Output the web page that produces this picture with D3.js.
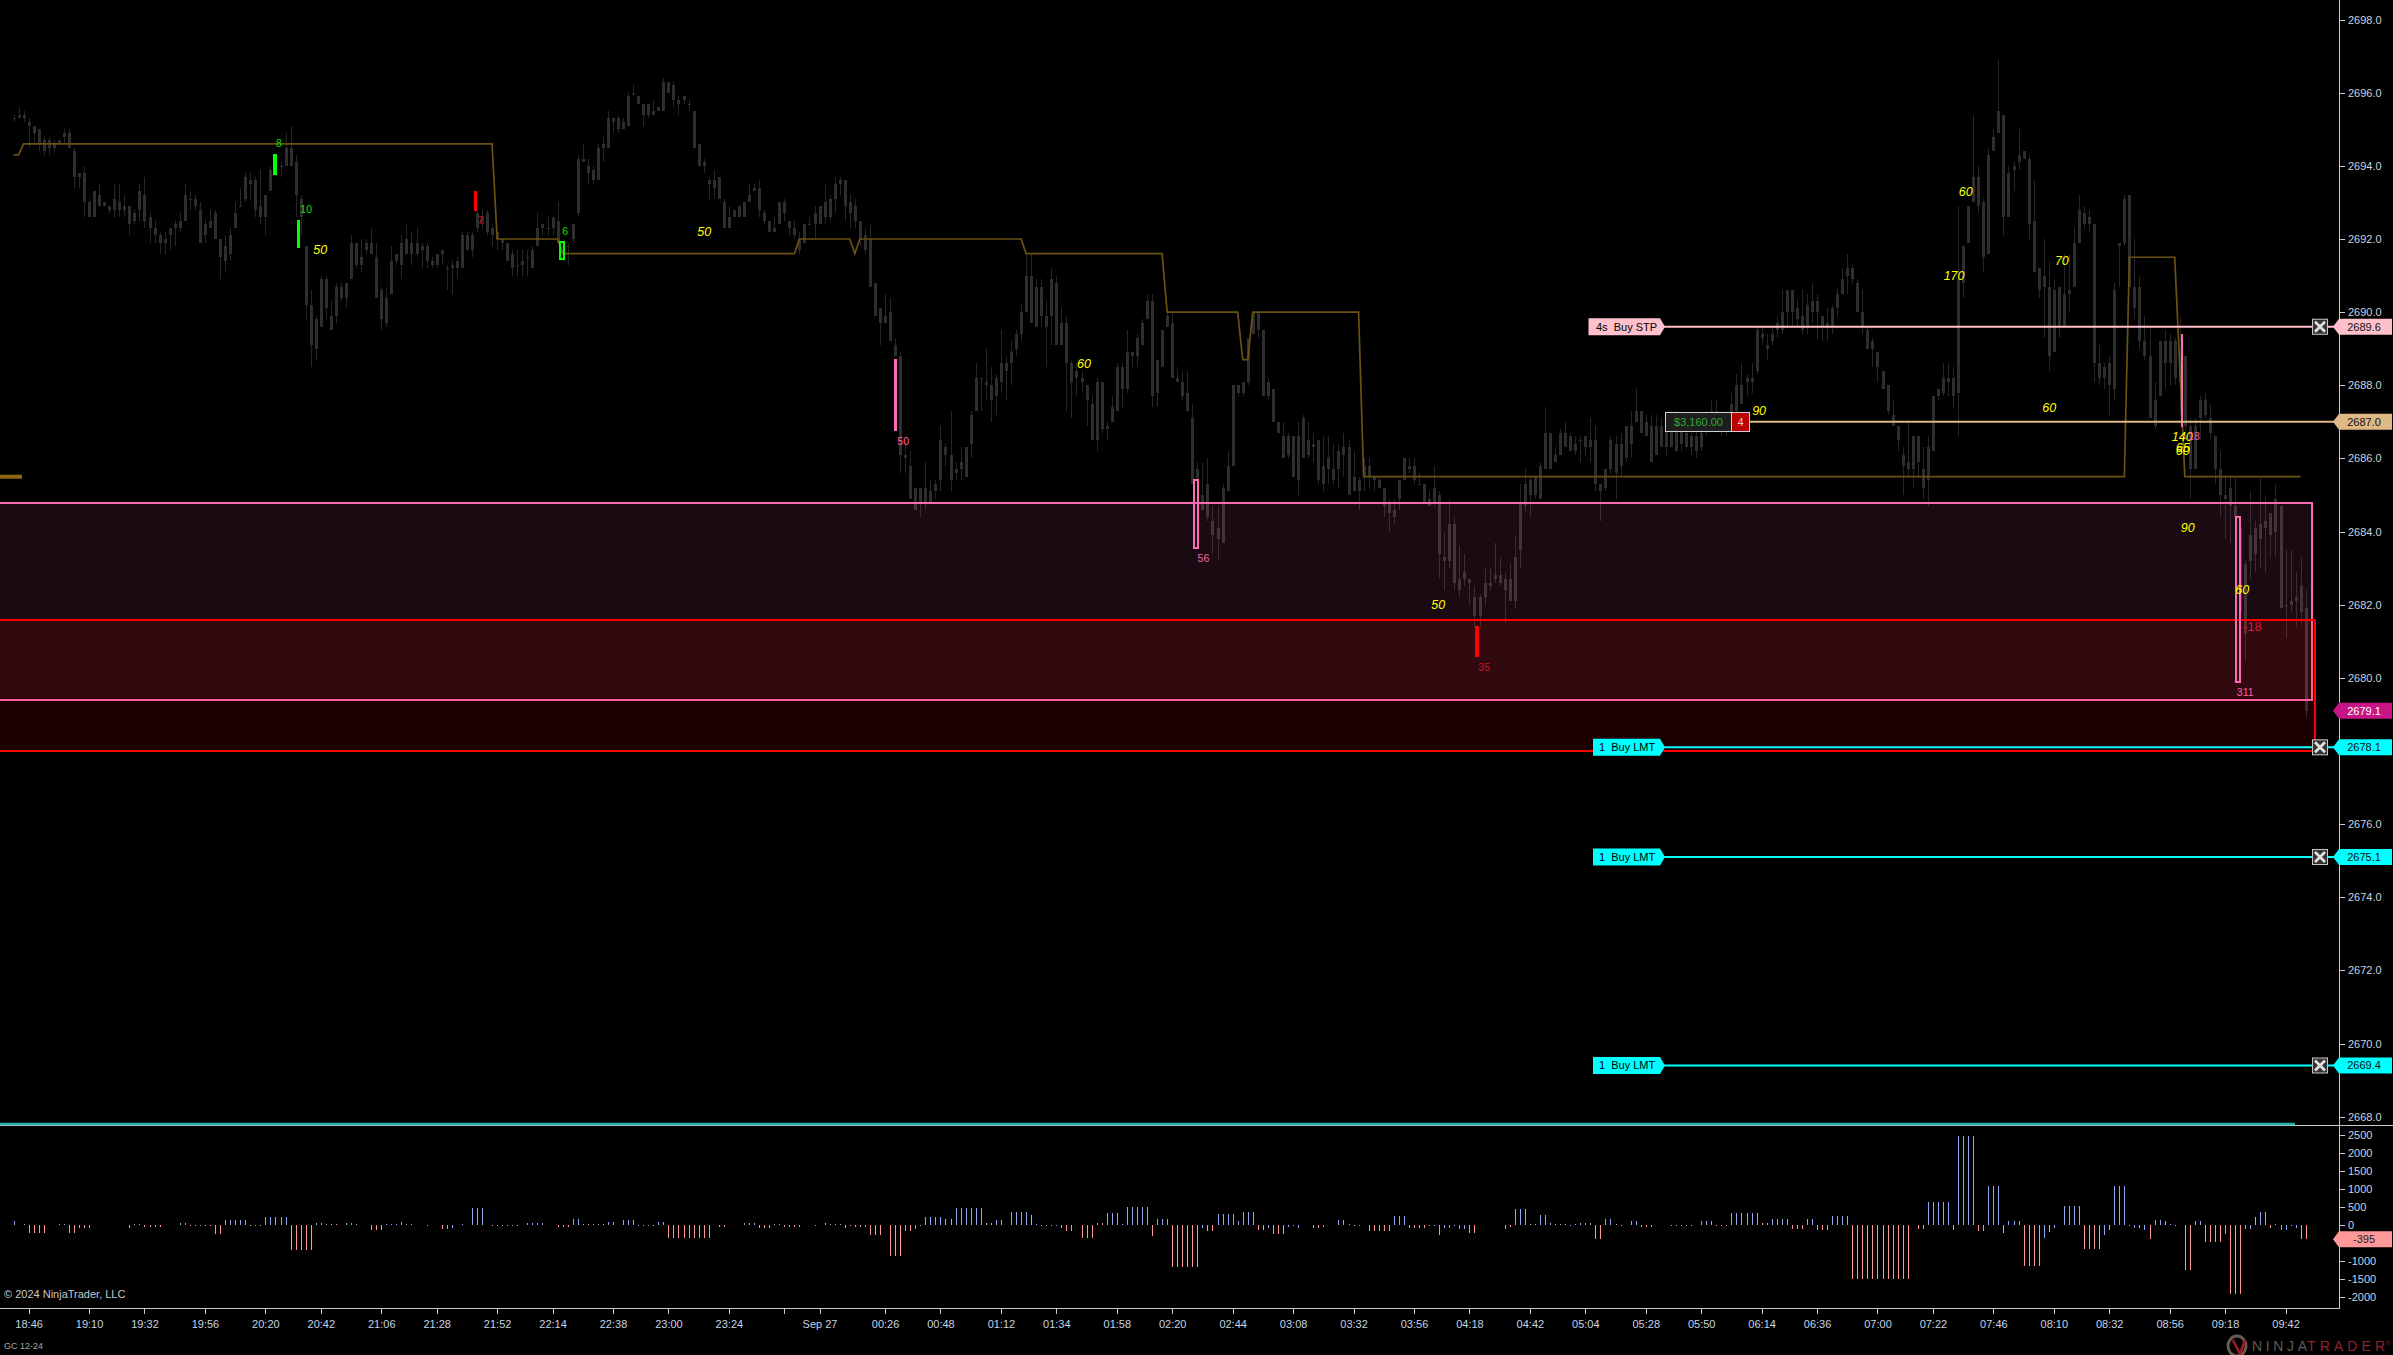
<!DOCTYPE html>
<html><head><meta charset="utf-8">
<style>html,body{margin:0;padding:0;background:#000;overflow:hidden}svg{display:block}text{font-family:"Liberation Sans",Arial,sans-serif;white-space:pre}</style>
<script src="https://cdn.jsdelivr.net/npm/d3@7/dist/d3.min.js"></script>
</head><body><svg id="c" width="2393" height="1355"></svg>
<script>
// ---- candles (price) one entry per 2-minute bar, from 18:40
const candleHigh=[
2695.4,2695.6,2695.5,2695.3,2695.1,2695.0,2694.8,2694.8,2694.7,2694.7,
2695.0,2695.0,2694.5,2693.8,2694.0,2693.1,2693.3,2693.5,2693.0,2692.9,
2693.5,2693.5,2693.2,2692.9,2692.8,2693.5,2693.7,2692.7,2692.5,2692.2,
2692.2,2692.3,2692.5,2692.7,2693.5,2693.3,2693.2,2693.0,2692.5,2692.8,
2692.8,2692.0,2692.1,2692.3,2693.0,2693.4,2693.8,2693.8,2693.7,2693.9,
2693.2,2694.0,2694.3,2694.1,2694.9,2695.1,2694.3,2693.2,2691.8,2690.6,
2689.9,2691.0,2691.0,2690.3,2690.8,2690.8,2690.8,2692.1,2691.9,2692.0,
2692.0,2692.3,2691.9,2690.7,2690.7,2691.8,2691.6,2692.1,2692.4,2692.2,
2692.3,2691.9,2691.9,2691.5,2691.6,2691.7,2691.3,2691.4,2691.5,2692.2,
2692.2,2692.2,2692.8,2692.8,2692.8,2692.4,2692.2,2692.0,2691.9,2691.7,
2691.7,2691.7,2691.7,2691.8,2692.7,2692.4,2692.6,2692.6,2693.0,2692.0,
2691.9,2692.4,2694.3,2694.6,2694.2,2694.0,2694.6,2694.8,2695.5,2695.3,
2695.4,2695.3,2696.0,2696.2,2695.9,2695.7,2695.7,2695.8,2695.6,2696.4,
2696.3,2696.3,2695.9,2695.9,2695.8,2695.5,2694.6,2694.2,2693.7,2693.9,
2693.7,2693.1,2692.9,2692.8,2692.9,2693.0,2693.5,2693.5,2693.6,2692.8,
2692.5,2692.6,2693.0,2693.1,2692.5,2692.5,2692.2,2692.4,2692.6,2692.9,
2692.9,2693.5,2693.2,2693.7,2693.7,2693.6,2693.2,2693.1,2692.5,2692.3,
2692.4,2690.8,2690.1,2690.5,2690.4,2689.3,2688.9,2686.5,2686.2,2685.2,
2685.2,2685.9,2685.4,2685.4,2686.9,2686.4,2687.3,2685.9,2686.3,2686.3,
2687.3,2688.6,2688.2,2689.0,2688.5,2688.3,2689.5,2688.8,2689.2,2689.5,
2690.2,2691.6,2691.6,2690.9,2690.9,2690.3,2691.2,2691.0,2690.1,2689.9,
2688.7,2688.6,2688.4,2688.0,2687.7,2688.2,2688.1,2687.0,2687.7,2688.6,
2688.6,2689.5,2688.9,2689.4,2689.8,2690.5,2690.5,2688.7,2689.5,2690.0,
2690.0,2688.5,2688.4,2688.4,2687.5,2685.9,2685.9,2686.0,2684.7,2684.7,
2685.3,2686.2,2688.0,2688.0,2688.1,2689.3,2690.0,2690.0,2689.5,2688.2,
2687.9,2687.0,2687.0,2686.7,2686.6,2687.0,2687.2,2687.0,2686.7,2686.5,
2686.6,2686.6,2686.4,2686.4,2686.7,2686.5,2686.2,2685.5,2686.0,2686.0,
2685.5,2685.5,2685.2,2684.9,2684.9,2685.4,2686.0,2686.0,2686.0,2685.6,
2685.3,2685.1,2685.8,2685.1,2684.0,2684.9,2684.4,2683.6,2683.4,2682.7,
2682.5,2682.3,2683.0,2683.0,2683.7,2683.3,2682.9,2683.1,2683.9,2685.3,
2685.7,2685.5,2685.5,2685.9,2687.4,2686.7,2686.3,2686.8,2687.0,2686.7,
2686.6,2686.6,2686.6,2687.1,2686.9,2685.3,2685.7,2686.6,2686.6,2686.7,
2686.9,2687.3,2687.9,2687.3,2687.2,2687.2,2687.2,2687.1,2687.2,2687.3,
2687.3,2687.0,2686.9,2686.8,2686.8,2687.1,2687.3,2687.6,2687.6,2687.3,
2687.3,2687.8,2688.3,2688.6,2688.3,2688.6,2689.6,2689.6,2689.4,2689.6,
2689.9,2690.6,2690.6,2690.6,2690.3,2690.6,2690.5,2690.8,2690.5,2689.9,
2690.1,2690.2,2690.7,2691.2,2691.6,2691.3,2690.9,2690.6,2689.6,2689.3,
2688.9,2688.4,2688.0,2687.6,2686.9,2686.3,2687.0,2686.6,2686.6,2686.3,
2686.6,2687.7,2687.9,2688.6,2688.6,2688.5,2692.9,2691.8,2692.9,2695.4,
2694.0,2693.1,2694.5,2695.0,2696.9,2695.4,2694.0,2694.1,2695.0,2694.4,
2694.3,2693.6,2691.2,2692.0,2691.4,2690.9,2690.7,2691.6,2691.6,2692.3,
2693.2,2692.9,2692.8,2692.4,2689.1,2688.6,2688.8,2690.8,2691.9,2693.2,
2693.2,2692.0,2691.0,2689.9,2689.6,2688.1,2689.2,2689.5,2689.4,2689.3,
2689.9,2688.8,2687.1,2687.1,2687.7,2687.8,2687.5,2686.6,2686.2,2685.5,
2685.5,2685.5,2684.4,2683.2,2685.1,2684.3,2685.5,2685.0,2684.5,2685.3,
2684.7,2683.5,2683.5,2682.9,2683.3,2682.4];
const candleBodyTop=[
2695.3,2695.4,2695.4,2695.2,2695.1,2695.0,2694.7,2694.7,2694.6,2694.7,
2694.9,2694.9,2694.4,2693.8,2693.8,2693.0,2693.3,2693.2,2693.0,2692.9,
2693.1,2693.0,2692.9,2692.9,2692.7,2693.3,2693.2,2692.6,2692.3,2692.1,
2692.0,2692.3,2692.4,2692.5,2693.2,2693.1,2693.1,2692.8,2692.4,2692.5,
2692.7,2692.0,2691.8,2692.1,2692.7,2692.9,2693.7,2693.6,2693.6,2692.9,
2693.2,2693.9,2694.2,2694.0,2694.5,2694.5,2694.1,2693.1,2691.8,2690.2,
2689.8,2690.9,2690.9,2689.9,2690.7,2690.7,2690.8,2691.9,2691.9,2691.5,
2691.9,2691.9,2691.5,2690.6,2690.4,2691.4,2691.6,2691.9,2692.0,2691.9,
2691.9,2691.8,2691.8,2691.4,2691.6,2691.7,2691.2,2691.3,2691.4,2692.1,
2692.1,2692.1,2692.7,2692.6,2692.7,2692.3,2692.2,2692.0,2691.9,2691.6,
2691.3,2691.4,2691.5,2691.7,2692.3,2692.4,2692.3,2692.6,2692.5,2691.9,
2691.8,2692.4,2694.2,2694.2,2694.0,2693.9,2694.5,2694.6,2695.3,2695.3,
2695.3,2695.2,2695.9,2696.0,2695.9,2695.7,2695.7,2695.5,2695.6,2696.3,
2696.3,2696.2,2695.8,2695.9,2695.7,2695.5,2694.6,2694.1,2693.6,2693.6,
2693.7,2693.0,2692.6,2692.8,2692.9,2693.0,2693.2,2693.4,2693.4,2692.7,
2692.5,2692.3,2693.0,2693.0,2692.5,2692.3,2692.0,2692.4,2692.4,2692.7,
2692.9,2693.0,2693.1,2693.5,2693.6,2693.6,2693.0,2692.9,2692.5,2692.1,
2692.0,2690.8,2690.1,2689.9,2690.0,2689.1,2688.8,2686.1,2685.8,2685.2,
2685.2,2685.2,2685.1,2685.3,2686.5,2686.3,2686.1,2685.7,2685.9,2686.3,
2687.2,2688.2,2688.2,2688.1,2688.0,2688.2,2688.6,2688.6,2688.9,2689.4,
2690.0,2691.0,2691.0,2690.7,2690.7,2689.9,2690.9,2690.8,2689.7,2689.7,
2688.6,2688.4,2688.2,2688.0,2687.5,2688.1,2688.1,2686.9,2687.4,2688.5,
2688.5,2688.9,2688.9,2689.3,2689.7,2690.3,2690.3,2688.7,2689.5,2689.9,
2689.7,2688.2,2688.1,2687.8,2687.1,2685.7,2685.0,2685.3,2684.3,2684.1,
2685.2,2685.8,2688.0,2688.0,2688.1,2689.3,2690.0,2690.0,2689.5,2688.1,
2687.9,2687.0,2686.6,2686.6,2686.6,2686.6,2687.1,2686.5,2686.4,2686.5,
2685.8,2686.0,2685.7,2686.2,2686.3,2686.3,2685.5,2685.4,2685.8,2685.8,
2685.5,2685.4,2685.2,2684.8,2684.6,2685.4,2686.0,2685.8,2685.8,2685.3,
2685.3,2684.9,2685.2,2685.0,2683.3,2684.2,2684.2,2682.7,2682.9,2682.7,
2682.2,2682.2,2682.6,2682.6,2682.8,2682.8,2682.7,2682.7,2683.3,2684.8,
2685.3,2685.4,2685.5,2685.8,2686.7,2686.7,2686.1,2686.7,2686.7,2686.6,
2686.4,2686.5,2686.6,2686.5,2686.5,2685.3,2685.7,2686.5,2686.4,2686.4,
2686.9,2686.9,2687.3,2687.3,2687.0,2686.9,2686.9,2686.9,2686.9,2686.9,
2686.9,2686.8,2686.7,2686.6,2686.6,2686.7,2687.1,2687.3,2687.3,2687.0,
2687.1,2687.5,2688.0,2688.0,2688.2,2688.2,2689.5,2689.4,2689.1,2689.4,
2689.7,2690.0,2690.6,2690.6,2690.1,2689.9,2690.2,2690.3,2690.3,2689.9,
2689.7,2690.1,2690.5,2690.9,2691.2,2691.2,2690.8,2690.0,2689.5,2689.2,
2688.9,2688.4,2688.0,2687.2,2686.9,2686.1,2685.9,2686.6,2686.6,2685.7,
2686.3,2687.7,2687.9,2688.2,2688.2,2688.2,2690.9,2691.8,2692.9,2693.7,
2693.7,2693.0,2694.3,2694.8,2695.5,2695.4,2693.8,2694.0,2694.3,2694.4,
2694.2,2692.5,2691.2,2691.0,2690.7,2690.6,2690.7,2690.5,2690.6,2691.9,
2692.8,2692.7,2692.6,2692.4,2688.6,2688.5,2688.6,2690.6,2691.9,2693.1,
2693.2,2690.7,2690.7,2689.2,2688.8,2687.6,2689.2,2689.2,2689.2,2689.2,
2688.9,2688.8,2686.9,2686.9,2687.6,2687.6,2687.1,2686.6,2685.7,2685.0,
2685.2,2684.7,2684.1,2683.1,2683.9,2684.1,2684.2,2684.3,2684.5,2684.9,
2684.7,2682.0,2682.1,2682.2,2682.5,2681.9];
const candleBodyBottom=[
2695.3,2695.3,2695.3,2695.1,2694.9,2694.6,2694.4,2694.5,2694.5,2694.6,
2694.8,2694.5,2693.7,2693.7,2693.0,2692.6,2692.6,2692.9,2692.9,2692.8,
2692.8,2692.8,2692.8,2692.4,2692.5,2692.8,2692.5,2692.3,2692.1,2691.9,
2691.9,2692.1,2692.3,2692.3,2692.5,2693.1,2692.9,2691.9,2692.1,2692.3,
2692.0,2691.5,2691.4,2691.6,2692.3,2692.9,2693.1,2693.5,2692.8,2692.6,
2692.6,2693.3,2694.0,2694.0,2694.0,2694.0,2693.2,2692.6,2690.2,2689.1,
2689.0,2689.6,2690.1,2689.5,2689.9,2690.4,2690.4,2690.9,2691.3,2691.3,
2691.7,2691.6,2690.4,2689.8,2689.7,2690.5,2691.4,2691.3,2691.6,2691.6,
2691.6,2691.7,2691.4,2691.3,2691.3,2691.6,2691.2,2691.2,2691.2,2691.2,
2691.7,2691.7,2692.3,2692.4,2692.2,2692.1,2692.0,2691.9,2691.4,2691.2,
2691.3,2691.3,2691.5,2691.2,2691.8,2692.3,2692.3,2692.3,2691.9,2691.6,
2691.8,2692.0,2692.7,2694.1,2693.8,2693.6,2693.6,2694.5,2694.5,2695.2,
2695.0,2695.0,2695.1,2696.0,2695.7,2695.4,2695.4,2695.4,2695.5,2695.5,
2696.0,2695.8,2695.7,2695.8,2695.7,2694.5,2694.0,2694.0,2693.5,2693.4,
2693.1,2692.3,2692.3,2692.6,2692.6,2692.6,2693.0,2693.3,2692.8,2692.5,
2692.2,2692.2,2692.4,2692.7,2692.3,2692.1,2691.7,2691.9,2692.4,2692.4,
2692.4,2692.6,2692.6,2693.1,2693.5,2692.9,2692.7,2692.5,2692.0,2691.7,
2690.7,2689.9,2689.7,2689.7,2689.2,2688.8,2686.1,2686.0,2684.9,2684.6,
2684.8,2684.8,2684.8,2685.1,2685.4,2686.1,2685.4,2685.6,2685.7,2685.5,
2686.4,2687.3,2688.2,2688.0,2687.6,2687.7,2688.1,2688.4,2688.6,2689.0,
2689.4,2690.0,2689.7,2689.6,2689.9,2689.6,2689.9,2689.1,2689.1,2688.6,
2688.1,2688.2,2688.1,2687.6,2686.5,2686.5,2686.8,2686.8,2687.0,2687.3,
2687.9,2687.9,2688.8,2688.8,2689.1,2689.8,2687.7,2687.8,2688.5,2689.6,
2688.2,2688.1,2687.7,2687.3,2685.3,2685.4,2684.6,2684.4,2683.9,2683.8,
2683.7,2685.1,2685.8,2687.8,2687.8,2688.1,2689.4,2689.5,2687.7,2687.7,
2687.0,2686.7,2686.0,2686.1,2685.5,2685.4,2686.0,2686.1,2686.3,2685.4,
2685.3,2685.7,2685.4,2685.7,2686.1,2685.0,2685.1,2685.1,2685.5,2685.5,
2685.4,2685.2,2684.7,2684.5,2684.4,2684.9,2685.4,2685.7,2685.4,2685.3,
2684.8,2684.7,2684.8,2683.4,2683.2,2683.2,2682.6,2682.4,2682.7,2682.6,
2681.7,2681.7,2682.2,2682.5,2682.7,2682.6,2682.4,2682.1,2682.1,2683.5,
2684.7,2685.0,2685.0,2684.9,2685.7,2685.7,2685.9,2686.1,2686.3,2686.2,
2686.2,2686.5,2686.3,2686.3,2685.3,2685.1,2685.2,2685.7,2685.6,2685.8,
2686.0,2686.4,2687.0,2686.7,2686.6,2685.9,2686.1,2686.3,2686.3,2686.3,
2686.2,2686.4,2686.3,2686.3,2686.2,2686.3,2686.8,2686.9,2686.9,2686.8,
2686.8,2687.1,2687.3,2687.5,2688.1,2688.1,2688.4,2689.3,2689.0,2689.2,
2689.5,2689.5,2690.0,2690.0,2689.8,2689.5,2689.6,2690.0,2690.0,2689.6,
2689.6,2689.6,2690.1,2690.5,2691.0,2690.9,2690.0,2689.6,2689.0,2689.0,
2688.5,2687.9,2687.3,2686.9,2686.5,2685.8,2685.7,2685.7,2685.9,2685.2,
2685.4,2686.2,2687.7,2687.8,2688.1,2687.7,2687.8,2690.8,2691.9,2693.0,
2692.9,2691.5,2691.6,2694.4,2694.9,2692.6,2692.6,2693.9,2694.1,2694.2,
2692.4,2691.1,2690.6,2690.7,2688.8,2688.9,2689.6,2689.6,2690.5,2690.7,
2691.9,2692.4,2692.4,2688.6,2688.2,2688.2,2688.0,2687.9,2691.8,2691.9,
2690.7,2690.1,2689.2,2688.8,2687.1,2686.9,2687.7,2688.6,2688.6,2688.2,
2688.1,2686.9,2685.7,2685.7,2687.1,2687.2,2686.7,2685.7,2685.0,2684.9,
2684.7,2684.4,2681.8,2681.2,2683.2,2683.4,2683.8,2684.1,2683.9,2684.0,
2681.9,2682.0,2682.0,2682.1,2681.8,2679.1];
const candleLow=[
2695.2,2695.3,2695.2,2694.5,2694.6,2694.4,2694.3,2694.3,2694.4,2694.6,
2694.6,2694.5,2693.4,2693.4,2692.6,2692.6,2692.6,2692.9,2692.9,2692.7,
2692.6,2692.6,2692.6,2692.1,2692.4,2692.5,2692.3,2691.9,2691.9,2691.6,
2691.6,2691.7,2691.8,2692.2,2692.5,2692.8,2692.8,2691.9,2691.9,2692.3,
2692.0,2690.9,2691.1,2691.4,2692.3,2692.9,2693.0,2693.1,2692.6,2692.4,
2692.1,2693.3,2693.8,2693.7,2694.0,2694.0,2692.6,2692.1,2689.8,2688.5,
2688.7,2689.6,2689.8,2689.5,2689.7,2690.3,2690.1,2690.9,2691.2,2691.1,
2691.6,2691.6,2690.4,2689.5,2689.6,2690.5,2691.3,2690.9,2691.6,2691.3,
2691.5,2691.2,2691.2,2691.2,2691.2,2691.3,2690.6,2690.5,2690.9,2691.2,
2691.7,2691.5,2692.2,2692.3,2692.1,2691.8,2691.7,2691.7,2691.4,2691.0,
2691.0,2691.0,2691.0,2691.2,2691.8,2692.1,2692.1,2692.1,2691.9,2691.4,
2691.3,2691.9,2692.6,2694.1,2693.5,2693.5,2693.6,2694.1,2694.5,2694.9,
2694.9,2695.0,2695.1,2695.9,2695.7,2695.1,2695.3,2695.4,2695.5,2695.5,
2696.0,2695.6,2695.4,2695.7,2695.5,2694.5,2694.0,2693.8,2693.1,2693.1,
2693.1,2692.3,2692.3,2692.6,2692.6,2692.6,2693.0,2693.3,2692.6,2692.4,
2692.2,2692.2,2692.4,2692.5,2692.1,2692.0,2691.6,2691.9,2692.4,2692.0,
2692.4,2692.4,2692.5,2692.7,2693.2,2692.5,2692.3,2692.3,2691.8,2691.6,
2690.7,2689.9,2689.1,2689.7,2689.2,2688.8,2685.6,2685.6,2684.9,2684.6,
2684.4,2684.6,2684.8,2684.9,2685.1,2685.8,2685.1,2685.4,2685.4,2685.5,
2686.0,2687.3,2687.3,2687.6,2687.0,2687.2,2687.8,2687.6,2688.0,2688.8,
2689.2,2690.0,2689.7,2689.6,2689.6,2688.5,2689.1,2689.1,2689.1,2687.3,
2687.1,2687.7,2687.8,2686.9,2686.5,2686.2,2686.7,2686.5,2687.0,2687.3,
2687.4,2687.8,2688.5,2688.5,2689.1,2689.8,2687.4,2687.4,2688.5,2689.6,
2688.2,2688.1,2687.6,2687.3,2685.3,2685.1,2684.6,2684.3,2683.4,2683.2,
2683.7,2685.1,2685.8,2687.7,2687.7,2688.0,2689.4,2689.3,2687.7,2687.6,
2687.0,2686.7,2686.0,2686.0,2685.5,2685.0,2686.0,2686.0,2685.9,2685.3,
2685.1,2685.3,2685.3,2685.2,2685.5,2685.0,2685.1,2684.6,2685.1,2685.2,
2685.1,2685.2,2684.4,2684.0,2684.2,2684.6,2685.4,2685.6,2685.3,2685.3,
2684.8,2684.7,2684.7,2682.7,2682.4,2683.0,2682.4,2682.2,2682.5,2682.0,
2681.4,2681.4,2682.0,2682.4,2682.6,2682.5,2681.5,2682.1,2681.9,2683.0,
2684.5,2684.4,2684.9,2684.9,2685.7,2685.7,2685.9,2686.1,2686.3,2686.2,
2686.1,2685.9,2686.1,2685.9,2685.1,2684.3,2685.1,2685.6,2684.9,2685.5,
2685.9,2686.0,2687.0,2686.7,2686.6,2685.9,2686.1,2686.3,2686.1,2686.3,
2686.2,2686.2,2686.3,2686.1,2686.0,2686.2,2686.6,2686.9,2686.8,2686.6,
2686.6,2687.1,2687.2,2687.5,2687.7,2687.8,2688.3,2689.1,2688.7,2689.1,
2689.3,2689.4,2689.6,2689.6,2689.6,2689.4,2689.4,2689.7,2689.3,2689.2,
2689.2,2689.4,2689.9,2690.5,2690.5,2690.8,2690.0,2689.4,2689.0,2688.5,
2688.1,2687.9,2687.2,2686.9,2686.2,2685.0,2685.5,2685.2,2685.5,2684.9,
2684.7,2686.2,2687.6,2687.7,2687.7,2687.4,2686.6,2690.4,2691.9,2693.0,
2692.7,2691.1,2691.6,2694.4,2694.9,2692.1,2692.6,2693.3,2693.9,2694.2,
2692.0,2691.1,2690.4,2689.3,2688.4,2688.9,2689.3,2689.6,2690.0,2690.7,
2691.9,2692.3,2692.2,2688.1,2688.0,2687.9,2687.2,2687.6,2690.7,2691.8,
2690.7,2689.8,2689.0,2688.7,2687.1,2686.8,2687.7,2687.9,2688.0,2688.0,
2687.2,2686.5,2684.9,2685.7,2686.5,2687.1,2686.5,2685.3,2684.4,2683.8,
2683.7,2684.1,2680.5,2680.5,2682.7,2682.9,2683.0,2682.9,2683.3,2683.3,
2681.9,2681.1,2681.8,2681.4,2681.5,2678.9];

// ---- stepped brown indicator
const stepBar=[0,1,2,95,96,108,109,155,156,166,167,168,200,201,228,229,243,244,245,246,267,268,419,420,429,431,454];
const stepPrice=[2694.3,2694.3,2694.6,2694.6,2692.0,2692.0,2691.6,2691.6,2692.0,2692.0,2691.6,2692.0,2692.0,2691.6,2691.6,2690.0,2690.0,2688.7,2688.7,2690.0,2690.0,2685.5,2685.5,2691.5,2691.5,2685.5,2685.5];

// ---- lower pane: runs of equal histogram values
const histStart=[0,2,3,9,11,13,23,24,26,33,35,40,42,47,50,55,60,62,66,68,71,74,77,78,79,82,85,87,89,91,95,102,108,111,113,116,118,121,124,125,128,130,140,145,148,151,153,159,161,162,165,166,167,168,170,174,177,178,179,180,181,185,187,193,195,198,202,203,204,208,209,212,215,216,217,220,221,226,227,230,236,237,239,243,244,247,249,250,253,254,255,258,260,263,265,266,269,274,277,281,283,284,286,287,289,296,297,298,301,303,305,306,309,310,311,314,316,318,319,321,323,329,335,338,341,347,349,353,356,358,361,365,378,380,385,386,390,392,395,396,399,403,404,405,407,411,415,416,417,420,421,422,423,424,425,427,428,429,431,433,435,439,440,443,445,446,448,449,450,452,453,454];
const histCount=[1,1,4,2,2,3,1,2,4,2,5,2,5,3,5,5,2,3,2,1,3,3,1,1,1,1,2,1,1,3,6,4,3,2,3,2,2,3,1,3,2,9,2,3,3,2,4,1,1,3,1,1,1,2,3,3,1,1,1,1,4,2,6,2,2,4,1,1,4,1,2,3,1,1,3,1,5,1,3,6,1,2,4,1,3,2,1,3,1,1,1,2,1,2,1,2,5,3,4,2,1,2,1,2,2,1,1,3,2,2,1,3,1,1,3,2,2,1,1,2,3,5,3,3,6,2,4,3,2,3,4,12,2,5,1,4,2,3,1,3,4,1,1,1,4,4,1,1,3,1,1,1,1,1,2,1,1,1,2,2,4,1,3,2,1,2,1,1,2,1,1,2];
const histValue=[110,20,-220,30,-220,-75,-85,30,-55,55,-40,-250,140,-25,220,-685,45,25,45,20,-140,25,85,30,20,10,-110,-75,30,470,-40,55,-55,165,20,40,70,140,-10,-25,75,-360,-55,50,-85,25,-45,10,50,25,-85,-10,-50,-45,-270,-850,-160,-160,-100,-10,220,165,480,55,140,360,270,20,10,-90,-160,-360,45,55,335,20,500,-305,165,-1160,-85,-160,305,100,360,-140,-85,-250,-65,10,-85,-85,-55,140,20,10,-160,250,-85,10,-270,-85,10,-110,-220,-110,-45,445,20,275,45,25,-15,15,45,-395,165,25,-30,110,-45,-15,110,-15,340,45,165,-110,165,-130,250,-1500,-110,640,-140,2480,-160,1085,-230,110,-1140,-360,-195,-85,530,-665,-280,-140,1085,-25,-85,-85,-140,-395,140,110,20,-10,-1240,110,-470,-250,-1930,-110,230,360,-85,20,-140,-40,-85,-395];
const histBlue=[1,1,0,1,0,0,0,1,0,1,0,0,1,0,1,0,1,0,1,1,0,1,1,1,1,1,0,1,1,1,0,1,0,1,0,0,1,1,1,1,1,0,0,1,0,1,0,1,0,1,0,0,0,0,0,0,1,0,1,1,1,0,1,0,1,1,0,1,1,1,0,0,1,0,1,1,1,0,1,0,1,0,1,1,1,0,1,0,1,1,1,0,1,1,1,1,0,1,0,1,0,1,1,1,0,1,0,1,0,1,1,0,1,1,1,0,1,0,1,1,0,0,1,0,1,0,1,0,1,0,1,0,0,1,0,1,0,1,0,1,0,1,0,1,1,0,1,0,1,1,1,0,1,0,1,0,1,1,0,1,0,1,0,1,0,1,0,1,1,0,1,0];

// ---- axes
const priceTicks=[2698,2696,2694,2692,2690,2688,2686,2684,2682,2680,2676,2674,2672,2670,2668];
const histTicks=[2500,2000,1500,1000,500,0,-1000,-1500,-2000];
const timeTickBars=[3,15,26,38,50,61,73,84,96,107,119,130,142,153,160,173,184,196,207,219,230,242,254,266,278,289,301,312,324,335,347,358,370,381,393,405,416,428,439,451];
const timeTickLabels=["18:46","19:10","19:32","19:56","20:20","20:42","21:06","21:28","21:52","22:14","22:38","23:00","23:24","","Sep 27","00:26","00:48","01:12","01:34","01:58","02:20","02:44","03:08","03:32","03:56","04:18","04:42","05:04","05:28","05:50","06:14","06:36","07:00","07:22","07:46","08:10","08:32","08:56","09:18","09:42"];

// ---- zones (price)
const zoneNames=["pink","red"];
const zoneTop=[2684.79,2681.58];
const zoneBottom=[2679.4,2678.0];
const zoneEndBar=[456.2,456.8];

// ---- signal bars
const signalBar=[51.9,56.6,91.7,108.9,175.1,234.8,290.5,430.5,441.5];
const signalHigh=[2694.32,2692.52,2693.31,2691.92,2688.72,2685.41,2681.42,2689.40,2684.41];
const signalLow=[2693.75,2691.75,2692.77,2691.45,2686.75,2683.56,2680.58,2686.87,2679.88];
const signalKind=["lime","lime","red","limeBox","pink","pinkBox","red","pink","pinkBox"];

// ---- annotations
const yellowText=["50","50","60","50","90","60","60","170","70","140","65","60","90","60"];
const yellowBar=[60.9,137.1,212.5,282.8,346.5,404.1,387.5,385.2,406.6,430.5,430.6,430.6,431.6,442.4];
const yellowPrice=[2691.7,2692.2,2688.6,2682.0,2687.3,2687.4,2693.3,2691.0,2691.4,2686.6,2686.3,2686.2,2684.1,2682.4];
const noteText=["8","10","7","6","50","56","35","311","-18","-18"];
const noteBar=[52.7,58.1,92.7,109.5,176.6,236.2,291.9,443,444.4,432.5];
const notePrice=[2694.62,2692.8,2692.51,2692.2,2686.48,2683.28,2680.3,2679.6,2681.4,2686.6];
const noteKind=["lime","lime","red","lime","pink","pink","red","pink","crimson","pink"];

// ---- orders / price flags
const orderPrice=[2689.6,2678.1,2675.1,2669.4];
const orderLabel=["4s  Buy STP","1  Buy LMT","1  Buy LMT","1  Buy LMT"];
const orderKind=["pink","cyan","cyan","cyan"];
const positionPrice=2687.0;
const positionPnl="$3,160.00";
const positionQty="4";
const flagPrice=[2689.6,2687.0,2679.1,2678.1,2675.1,2669.4];
const flagKind=["pink","tan","magenta","cyan","cyan","cyan"];
const histCurrent=-395;

// ================= drawing
const palette={pink:"#ffc0cb",cyan:"#00ffff",tan:"#deb887",magenta:"#c71585",lime:"#00ff00",red:"#ff0000",hot:"#ff69b4",crimson:"#dc143c"};
const svg=d3.select("#c");
svg.append("rect").attr("width",2393).attr("height",1355).attr("fill","#000");
const x=d3.scaleLinear().domain([0,455]).range([13.5,2305.7]);
const y=d3.scaleLinear().domain([2696,2668]).range([92.7,1116.7]);
const yh=d3.scaleLinear().domain([2500,-2000]).range([1135,1297]);
const px=v=>Math.round(x(v));

// candles
const idx=d3.range(candleHigh.length);
const cg=svg.append("g").attr("shape-rendering","crispEdges");
cg.selectAll(".w").data(idx).join("line").attr("x1",i=>px(i)+.5).attr("x2",i=>px(i)+.5)
  .attr("y1",i=>y(candleHigh[i])).attr("y2",i=>y(candleLow[i])).attr("stroke","#262626").attr("stroke-width",1);
cg.selectAll(".b").data(idx).join("rect").attr("x",i=>px(i)-1).attr("width",3)
  .attr("y",i=>y(candleBodyTop[i])).attr("height",i=>Math.max(1,y(candleBodyBottom[i])-y(candleBodyTop[i]))).attr("fill","#2e2e2e");

// stepped line
svg.append("path").attr("d",d3.line().x((d,i)=>x(stepBar[i])).y(d=>y(d))(stepPrice))
  .attr("fill","none").attr("stroke","#6a5212").attr("stroke-width",1.7);
svg.append("line").attr("x1",0).attr("x2",22).attr("y1",y(2685.5)).attr("y2",y(2685.5)).attr("stroke","#8b6914").attr("stroke-width",4);

// zones
const zoneColor=[palette.hot,palette.red], zoneAlpha=[.1,.11];
zoneNames.forEach((n,k)=>{
  const top=y(zoneTop[k]),bot=y(zoneBottom[k]),r=x(zoneEndBar[k]);
  svg.append("rect").attr("x",-4).attr("y",top).attr("width",r+4).attr("height",bot-top)
    .attr("fill",zoneColor[k]).attr("fill-opacity",zoneAlpha[k]).attr("stroke",zoneColor[k]).attr("stroke-width",2).attr("shape-rendering","crispEdges");
});

// signal bars
const sigColor={lime:palette.lime,limeBox:palette.lime,red:palette.red,pink:palette.hot,pinkBox:palette.hot};
const sg=svg.append("g");
signalBar.forEach((b,k)=>{
  const kind=signalKind[k],box=kind.endsWith("Box"),c=sigColor[kind],top=y(signalHigh[k]),bot=y(signalLow[k]);
  const w=box?4:(k===7?2:3.4);
  sg.append("rect").attr("x",x(b)-w/2).attr("y",top).attr("width",w).attr("height",bot-top)
    .attr("fill",box?"none":c).attr("stroke",box?c:"none").attr("stroke-width",box?2:0).attr("shape-rendering","crispEdges");
});

// histogram
const hg=svg.append("g").attr("shape-rendering","crispEdges");
histStart.forEach((s,k)=>{
  const bars=d3.range(s,s+histCount[k]);
  hg.selectAll(null).data(bars).join("rect").attr("x",i=>px(i)).attr("width",1)
    .attr("y",Math.min(yh(histValue[k]),yh(0))).attr("height",Math.max(1,Math.abs(yh(histValue[k])-yh(0))))
    .attr("fill",histBlue[k]?"#8ea6f4":"#ff9696");
});

// axes
const axisColor="#c9c9c9",tickText="#c6d3e2";
const styleAxis=g=>{g.select(".domain").remove();g.selectAll("line").attr("stroke",axisColor).attr("shape-rendering","crispEdges");
  g.selectAll("text").attr("fill",tickText).style("font-size","11px").style("font-family","'Liberation Sans'");};
svg.append("g").attr("transform","translate(2339.5,0)")
  .call(d3.axisRight(y).tickValues(priceTicks).tickSize(5.5).tickPadding(3).tickFormat(d=>d.toFixed(1))).call(styleAxis);
svg.append("g").attr("transform","translate(2339.5,0)")
  .call(d3.axisRight(yh).tickValues(histTicks).tickSize(5.5).tickPadding(3).tickFormat(d=>String(d))).call(styleAxis);
svg.append("g").attr("transform","translate(0,1308.5)")
  .call(d3.axisBottom(x).tickValues(timeTickBars).tickSize(5.5).tickPadding(6).tickFormat((d,i)=>timeTickLabels[i])).call(styleAxis);
const fr=svg.append("g").attr("stroke",axisColor).attr("stroke-width",1).attr("shape-rendering","crispEdges");
fr.append("line").attr("x1",2339.5).attr("x2",2339.5).attr("y1",0).attr("y2",1308.5);
fr.append("line").attr("x1",0).attr("x2",2339.5).attr("y1",1308.5).attr("y2",1308.5);
fr.append("line").attr("x1",0).attr("x2",2393).attr("y1",1125.5).attr("y2",1125.5);
svg.append("line").attr("x1",0).attr("x2",2295).attr("y1",y(2667.8)).attr("y2",y(2667.8)).attr("stroke","#20b2aa").attr("stroke-width",2.4);

// order lines + labels
const lbl=(g,x0,x1,yc,fill)=>g.append("path").attr("d",`M${x0},${yc-8.5}H${x1-5}L${x1},${yc}L${x1-5},${yc+8.5}H${x0}Z`).attr("fill",fill);
orderPrice.forEach((p,k)=>{
  const yc=y(p),c=palette[orderKind[k]],isStop=orderKind[k]==="pink";
  svg.append("line").attr("x1",1660).attr("x2",2335).attr("y1",yc).attr("y2",yc).attr("stroke",c).attr("stroke-width",2);
  lbl(svg,isStop?1588.5:1593,1665,yc,c);
  svg.append("text").attr("x",isStop?1596:1599).attr("y",yc).attr("dy","0.35em").attr("fill","#000").style("font-size","11px").text(orderLabel[k]);
  const g=svg.append("g").attr("transform",`translate(2320,${yc})`);
  g.append("rect").attr("x",-7.5).attr("y",-7.5).attr("width",15).attr("height",15).attr("fill","#333").attr("stroke","#c8c8c8").attr("stroke-width",1);
  g.append("path").attr("d","M-5,-5L5,5M5,-5L-5,5").attr("stroke","#e0e0e0").attr("stroke-width",2.8);
});

// position line
const ypos=y(positionPrice);
svg.append("line").attr("x1",1750).attr("x2",2335).attr("y1",ypos).attr("y2",ypos).attr("stroke",palette.tan).attr("stroke-width",2);
svg.append("rect").attr("x",1665.5).attr("y",412.5).attr("width",66).attr("height",19).attr("fill","#1e1e1e").attr("stroke","#cfcfcf");
svg.append("rect").attr("x",1731.5).attr("y",412.5).attr("width",18).attr("height",19).attr("fill","#bb0000").attr("stroke","#cfcfcf");
svg.append("text").attr("x",1698.5).attr("y",422).attr("dy","0.35em").attr("text-anchor","middle").attr("fill","#2eaa2e").style("font-size","11px").text(positionPnl);
svg.append("text").attr("x",1740.5).attr("y",422).attr("dy","0.35em").attr("text-anchor","middle").attr("fill","#e6c8c8").style("font-size","11px").text(positionQty);

// price flags
const flag=(yc,fill,txt,tc)=>{
  svg.append("path").attr("d",`M2333,${yc}L2339,${yc-8}H2392V${yc+8}H2339Z`).attr("fill",fill);
  svg.append("text").attr("x",2364).attr("y",yc).attr("dy","0.35em").attr("text-anchor","middle").attr("fill",tc).style("font-size","11px").text(txt);
};
flagPrice.forEach((p,k)=>flag(y(p),palette[flagKind[k]],p.toFixed(1),flagKind[k]==="magenta"?"#fff":"#111"));
flag(yh(histCurrent),"#ff9999",String(histCurrent),"#222");

// annotations
svg.selectAll(".yl").data(yellowText).join("text").attr("x",(d,i)=>x(yellowBar[i])).attr("y",(d,i)=>y(yellowPrice[i])).attr("dy","0.35em")
  .attr("text-anchor","middle").attr("fill","#ffff00").style("font-size","12.5px").style("font-style","italic").text(d=>d);
const noteColor={lime:"#00e000",red:"#d01020",pink:"#ff5fa8",crimson:"#dc143c"};
svg.selectAll(".nt").data(noteText).join("text").attr("x",(d,i)=>x(noteBar[i])).attr("y",(d,i)=>y(notePrice[i])).attr("dy","0.35em")
  .attr("text-anchor","middle").attr("fill",(d,i)=>noteColor[noteKind[i]]).style("font-size",(d,i)=>noteKind[i]==="crimson"?"13px":"10.5px").text(d=>d);

// footer
svg.append("text").attr("x",4).attr("y",1294).attr("dy","0.35em").attr("fill","#c8c8c8").style("font-size","11px").text("© 2024 NinjaTrader, LLC");
svg.append("text").attr("x",4).attr("y",1346).attr("dy","0.35em").attr("fill","#a8a8a8").style("font-size","9px").text("GC 12-24");
const lg=svg.append("g");
lg.append("ellipse").attr("cx",2237).attr("cy",1346).attr("rx",9).attr("ry",10).attr("fill","none").attr("stroke","#6b5a52").attr("stroke-width",3);
lg.append("path").attr("d","M2233,1340L2240,1354L2245,1340").attr("fill","none").attr("stroke","#a01c22").attr("stroke-width",2.5);
lg.append("text").attr("x",2252).attr("y",1351).attr("fill","#5c5c5c").attr("textLength",55).attr("lengthAdjust","spacing").style("font-size","14px").text("NINJA");
lg.append("text").attr("x",2307).attr("y",1351).attr("fill","#94202a").attr("textLength",78).attr("lengthAdjust","spacing").style("font-size","14px").text("TRADER");
lg.append("text").attr("x",2386).attr("y",1345).attr("fill","#94202a").style("font-size","6px").text("®");
</script></body></html>
